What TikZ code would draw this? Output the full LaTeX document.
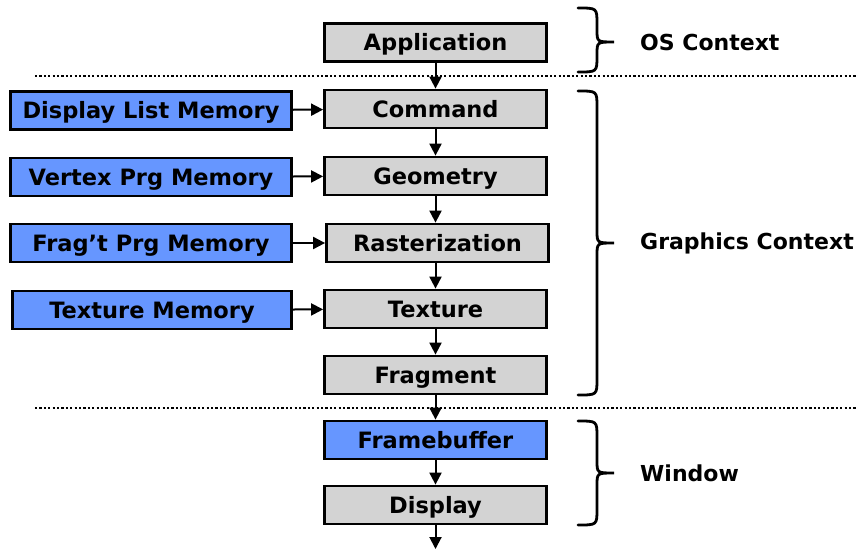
\documentclass[tikz,border=0pt]{standalone}
\usepackage{fontspec}
\setmainfont{DejaVu Sans}
\usetikzlibrary{arrows.meta}
\definecolor{boxgray}{RGB}{211,211,211}
\definecolor{boxblue}{RGB}{102,150,255}
\tikzset{
  lbl/.style={font=\fontsize{22.5}{24}\selectfont\bfseries, text height=18pt, text depth=1.6pt},
  stage/.style={lbl, draw=black, line width=2.8pt, fill=boxgray, minimum width=222pt, minimum height=38pt, inner sep=0pt},
  bluestage/.style={stage, fill=boxblue},
  membox/.style={lbl, draw=black, line width=2.2pt, fill=boxblue, minimum width=281pt, minimum height=38pt, inner sep=0pt},
  flow/.style={line width=2pt, -{Triangle[length=12pt,width=12pt]}},
  sep/.style={line width=2.8pt, dash pattern=on 2.2pt off 2.2pt},
  bracepath/.style={line width=2.8pt, line cap=round},
  ctx/.style={font=\fontsize{22}{24}\selectfont\bfseries, anchor=west, inner sep=0pt}
}
\begin{document}
\begin{tikzpicture}[x=1pt,y=-1pt]
\useasboundingbox (0,0) rectangle (858,548);
% dotted separators
\coordinate (s1a) at (35,76); \coordinate (s1b) at (858,76);
\coordinate (s2a) at (35,408); \coordinate (s2b) at (858,408);
\draw[sep] (s1a) -- (s1b);
\draw[sep] (s2a) -- (s2b);
% pipeline
\node[stage] (app) at (435.5,42.5) {Application};
\node[stage] (cmd) at (435.5,109) {Command};
\node[stage] (geo) at (435.5,176) {Geometry};
\node[stage] (ras) at (437.5,243) {Rasterization};
\node[stage] (tex) at (435.5,309) {Texture};
\node[stage] (frag) at (435.5,375) {Fragment};
\node[bluestage] (fb) at (435.5,440) {Framebuffer};
\node[stage] (disp) at (435.5,505) {Display};
\coordinate (out) at (435.5,549);
% memories
\node[membox] (dlm) at (151,110.5) {Display List Memory};
\node[membox] (vpm) at (151,177) {Vertex Prg Memory};
\node[membox] (fpm) at (151,243) {Frag't Prg Memory};
\node[membox, minimum width=279pt] (tm) at (152,310) {Texture Memory};
% flows
\draw[flow] (app) -- (cmd);
\draw[flow] (cmd) -- (geo);
\draw[flow] (geo) -- (geo.south |- ras.north);
\draw[flow] (geo.south |- ras.south) -- (geo.south |- tex.north);
\draw[flow] (tex) -- (frag);
\draw[flow] (frag) -- (fb);
\draw[flow] (fb) -- (disp);
\draw[flow] (disp) -- (out);
\draw[flow] (dlm) -- (cmd);
\draw[flow] (vpm) -- (geo);
\draw[flow] (fpm) -- (ras);
\draw[flow] (tm) -- (tex);
% braces
\newcommand{\mybrace}[3]{% y0, y1, ym
  \draw[bracepath] (578,#1) .. controls (597,#1) .. (597,#1+16) -- (597,#3-12) .. controls (597,#3) .. (614,#3)
     .. controls (597,#3) .. (597,#3+12) -- (597,#2-16) .. controls (597,#2) .. (578,#2);}
\mybrace{8}{72}{42}
\mybrace{91}{395}{243}
\mybrace{421}{525}{473}
\node[ctx] (osc) at (640,42) {OS Context};
\node[ctx] (gc) at (640,243) {Graphics Context};
\node[ctx] (win) at (640,473) {Window};
\end{tikzpicture}
\end{document}
